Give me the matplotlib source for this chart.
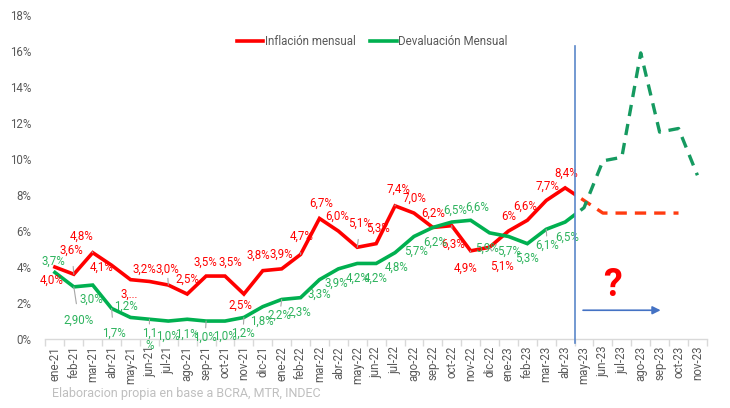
import matplotlib
matplotlib.use("Agg")
import matplotlib.pyplot as plt
from matplotlib.patches import Rectangle

plt.rcParams['font.family'] = ['Roboto', 'DejaVu Sans']

months = ["ene-21","feb-21","mar-21","abr-21","may-21","jun-21","jul-21","ago-21","sep-21","oct-21","nov-21","dic-21",
          "ene-22","feb-22","mar-22","abr-22","may-22","jun-22","jul-22","ago-22","sep-22","oct-22","nov-22","dic-22",
          "ene-23","feb-23","mar-23","abr-23","may-23","jun-23","jul-23","ago-23","sep-23","oct-23","nov-23"]

# actual values (%), ene-21 .. may-23
inflacion = [4.0,3.6,4.8,4.1,3.3,3.2,3.0,2.5,3.5,3.5,2.5,3.8,
             3.9,4.7,6.7,6.0,5.1,5.3,7.4,7.0,6.2,6.3,4.9,5.1,
             6.0,6.6,7.7,8.4,7.7]
devaluacion = [3.7,2.9,3.0,1.7,1.2,1.1,1.0,1.1,1.0,1.0,1.2,1.8,
               2.2,2.3,3.3,3.9,4.2,4.2,4.8,5.7,6.2,6.5,6.6,5.9,
               5.7,5.3,6.1,6.5,7.3]
# labels for ene-21 .. abr-23
infl_labels = ["4,0%","3,6%","4,8%","4,1%","3,...","3,2%","3,0%","2,5%","3,5%","3,5%","2,5%","3,8%",
               "3,9%","4,7%","6,7%","6,0%","5,1%","5,3%","7,4%","7,0%","6,2%","6,3%","4,9%","5,1%",
               "6%","6,6%","7,7%","8,4%"]
deval_labels = ["3,7%","2,90%","3,0%","1,7%","1,2%","1,1\n%","1,0%","1,1%","1,0%","1,0%","1,2%","1,8%",
                "2,2%","2,3%","3,3%","3,9%","4,2%","4,2%","4,8%","5,7%","6,2%","6,5%","6,6%","5,9%",
                "5,7%","5,3%","6,1%","6,5%"]
# projections (%), may-23 onwards
infl_proj = [7.7,7.0,7.0,7.0,7.0,7.0]          # may-23 .. oct-23
deval_proj = [7.3,9.9,10.1,15.9,11.5,11.7,9.1]  # may-23 .. nov-23

# label offsets in pixels (style)
infl_off = [(-3,-13),(-2,24),(-11,16),(-10,-2),(-1,-15),(-5,12),(-1,16),(0,15),(-1,14),(5,14),(-4,-11),(-4,15),
            (0,15),(1,18),(2,15),(-1,15),(3,24),(2,15),(3,17),(1,15),(0,14),(1,-19),(-5,-17),(12,-19),
            (0,15),(-2,14),(1,14),(1,15)]
deval_off = [(-2,11),(5,-33),(-1,-14),(2,-25),(-5,11),(0,-20),(0,-15),(0,-15),(-1,-16),(0,-15),(-1,-16),(-1,-15),
             (-2,-16),(-1,-15),(0,-15),(-2,-14),(0,-15),(0,-15),(2,-15),(2,-15),(2,-15),(3,12),(7,13),(-3,-15),
             (1,-15),(0,-15),(1,-16),(2,-15)]

RED = "#FF0000"
GREEN = "#00B050"
GREEN_TXT = "#2DB35D"
GRAY = "#595959"

fig = plt.figure(figsize=(7.30, 4.08), dpi=100)
ax = fig.add_axes([0.0623, 0.169, 0.906, 0.794])

n = len(months)
xs = list(range(n))
split = 27.5

clip_left = Rectangle((-1, -1), split + 1, 30, transform=ax.transData)
clip_right = Rectangle((split, -1), 20, 30, transform=ax.transData)

l1, = ax.plot(xs[:len(inflacion)], inflacion, color=RED, lw=2.6, solid_joinstyle='miter', label="Inflación mensual", zorder=3)
l2, = ax.plot(xs[:len(devaluacion)], devaluacion, color=GREEN, lw=2.6, solid_joinstyle='miter', label="Devaluación Mensual", zorder=3)
l1.set_clip_path(clip_left)
l2.set_clip_path(clip_left)

# projections drawn dashed, continuing from last actual month
px_i = [27] + list(range(28, 28 + len(infl_proj)))
py_i = [inflacion[27]] + infl_proj
px_d = [27] + list(range(28, 28 + len(deval_proj)))
py_d = [devaluacion[27]] + deval_proj
d1, = ax.plot(px_i, py_i, color="#FF3B10", lw=2.4, ls=(0, (3.4, 2.4)), zorder=3)
d2, = ax.plot(px_d, py_d, color="#159A60", lw=2.4, ls=(0, (3.4, 2.4)), zorder=3)
d1.set_clip_path(clip_right)
d2.set_clip_path(clip_right)

# data labels
for i, (v, t, o) in enumerate(zip(inflacion, infl_labels, infl_off)):
    dist = (o[0]**2 + o[1]**2) ** 0.5
    ap = dict(arrowstyle='-', color='#A6A6A6', lw=0.8, shrinkA=5, shrinkB=0) if dist > 16 else None
    ax.annotate(t, (i, v), xytext=o, textcoords='offset pixels', ha='center', va='center',
                color=RED, fontsize=8.3, arrowprops=ap, zorder=4)
for i, (v, t, o) in enumerate(zip(devaluacion, deval_labels, deval_off)):
    dist = (o[0]**2 + o[1]**2) ** 0.5
    ap = dict(arrowstyle='-', color='#A6A6A6', lw=0.8, shrinkA=5, shrinkB=0) if dist > 16 else None
    ax.annotate(t, (i, v), xytext=o, textcoords='offset pixels', ha='center', va='center',
                color=GREEN_TXT, fontsize=8.3, arrowprops=ap, zorder=4, linespacing=0.9)

# vertical separator and arrow
ax.plot([split, split], [-0.2, 16.3], color="#5B87C9", lw=1.2, clip_on=False, zorder=5)
ax.annotate("", xy=(32.2, 1.6), xytext=(27.8, 1.6),
            arrowprops=dict(arrowstyle='-|>', color="#4472C4", lw=1.2, mutation_scale=12))
ax.text(29.5, 3.0, "?", color=RED, fontsize=27, fontweight='bold', ha='center', va='center')

# axes styling
ax.set_xlim(-0.5, n - 0.5)
ax.set_ylim(0, 18)
ax.set_yticks(range(0, 19, 2))
ax.set_yticklabels([f"{v}%" for v in range(0, 19, 2)], color=GRAY, fontsize=8.3)
ax.set_xticks(xs)
ax.set_xticklabels(months, rotation=90, color=GRAY, fontsize=8.3)
ax.set_xticks([i - 0.5 for i in range(n + 1)], minor=True)
ax.tick_params(axis='x', which='major', length=0, pad=5)
ax.tick_params(axis='x', which='minor', length=5, color="#D9D9D9", width=1)
ax.tick_params(axis='y', length=0, pad=10)
for s in ['top', 'right', 'left']:
    ax.spines[s].set_visible(False)
ax.spines['bottom'].set_color("#D9D9D9")
ax.spines['bottom'].set_linewidth(1)

leg = ax.legend(handles=[l1, l2], loc='center', bbox_to_anchor=(0.494, 0.917), ncol=2, frameon=False,
                fontsize=8.3, handlelength=2.3, handletextpad=0.1, columnspacing=1.3)
for t in leg.get_texts():
    t.set_color(GRAY)

fig.text(52/730, 1 - 393/408, "Elaboracion propia en base a BCRA, MTR, INDEC", color="#BFBFBF",
         fontsize=9, ha='left', va='center')

fig.savefig("out.png", dpi=100)
